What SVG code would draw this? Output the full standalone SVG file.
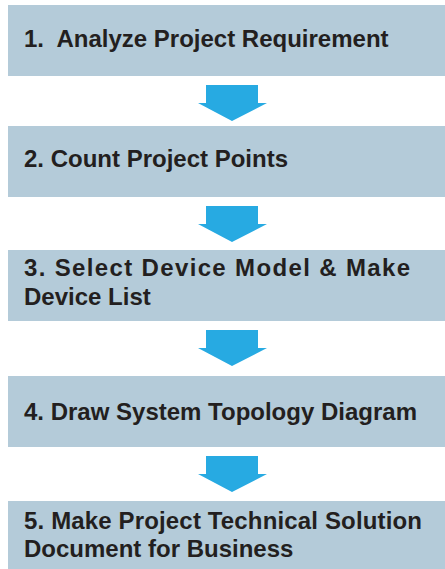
<svg xmlns="http://www.w3.org/2000/svg" width="445" height="569" viewBox="0 0 445 569">
<defs>
<style>
.box{fill:#b4cbd9}
.arr{fill:#27aae2}
.t{font-family:"Liberation Sans",Arial,sans-serif;font-weight:bold;font-size:24px;fill:#231f20}
</style>
<path id="ar" d="M206 0 H258 V18 H267 L232 36 L198 18 H206 Z"/>
</defs>
<rect width="445" height="569" fill="#fff"/>
<g id="connectors">
<use href="#ar" class="arr" y="85"/>
<use href="#ar" class="arr" y="206"/>
<use href="#ar" class="arr" y="330"/>
<use href="#ar" class="arr" y="456"/>
</g>
<g id="node1"><rect class="box" x="8" y="5" width="437" height="71"/><text class="t" x="24" y="47" xml:space="preserve">1.  Analyze Project Requirement</text></g>
<g id="node2"><rect class="box" x="8" y="126" width="437" height="71"/><text class="t" x="24" y="167">2. Count Project Points</text></g>
<g id="node3"><rect class="box" x="8" y="250" width="437" height="71"/><text class="t" x="24" y="276" textLength="386" lengthAdjust="spacing">3. Select Device Model &amp; Make</text><text class="t" x="24" y="305">Device List</text></g>
<g id="node4"><rect class="box" x="8" y="376" width="437" height="71"/><text class="t" x="24" y="420">4. Draw System Topology Diagram</text></g>
<g id="node5"><rect class="box" x="8" y="501" width="437" height="68"/><text class="t" x="24" y="529" textLength="398" lengthAdjust="spacing">5. Make Project Technical Solution</text><text class="t" x="24" y="557">Document for Business</text></g>
</svg>
